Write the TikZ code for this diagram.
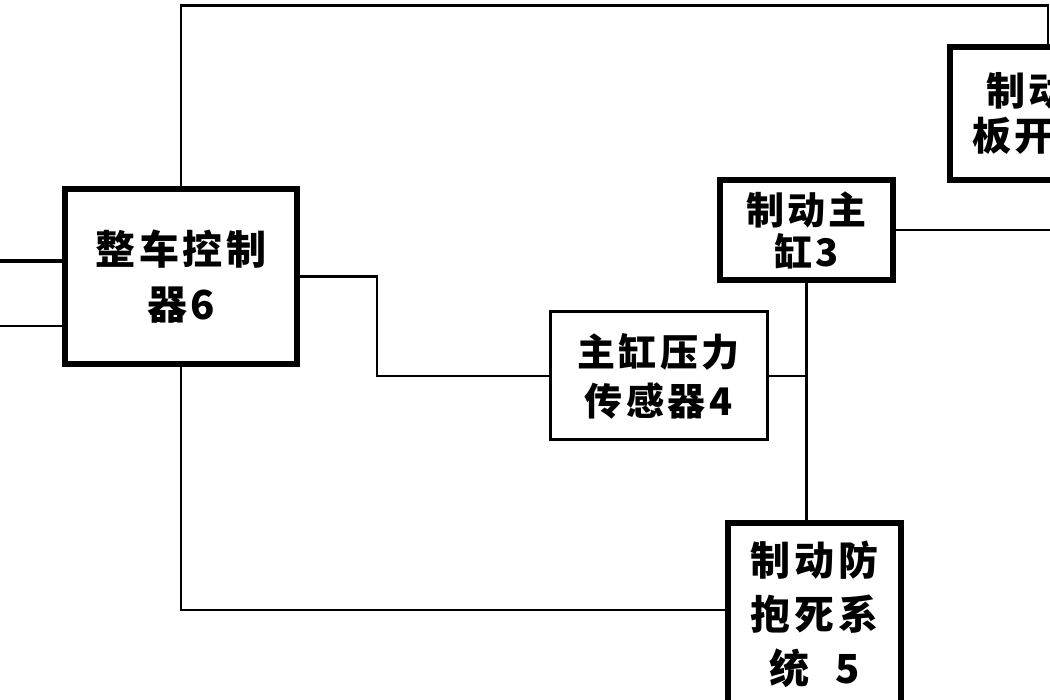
\documentclass[tikz,border=0pt]{standalone}
\usepackage{fontspec}
\newfontfamily\cjk[LetterSpace=9]{Noto Sans CJK SC}
\tikzset{
  box/.style={draw=black, line width=6pt, fill=white, align=center, inner sep=0pt,
    font=\cjk\bfseries\fontsize{38}{46}\selectfont},
  thinbox/.style={box, line width=3pt},
  wire/.style={draw=black, line width=2.8pt},
  thickwire/.style={draw=black, line width=4.5pt}
}
\begin{document}
\begin{tikzpicture}[x=1pt,y=-1pt]
\useasboundingbox (0,0) rectangle (1050,700);
\clip (0,0) rectangle (1050,700);
\fill[white] (0,0) rectangle (1050,700);
% boxes (drawn first to name them)
\node[box, minimum width=232pt, minimum height=175pt, font=\cjk\bfseries\fontsize{40}{55}\selectfont] (ecu) at (181,276.5) {整车控制\\器6};
\node[box, minimum width=173pt, minimum height=100pt, font=\cjk\bfseries\fontsize{38}{42}\selectfont] (master) at (806.5,230) {制动主\\缸3};
\node[thinbox, minimum width=217pt, minimum height=128pt, font=\cjk\bfseries\fontsize{38}{49}\selectfont] (sensor) at (658.5,376) {主缸压力\\传感器4};
\node[box, minimum width=173pt, minimum height=182pt, font=\cjk\bfseries\fontsize{40}{54}\selectfont] (abs) at (814.5,614) {制动防\\抱死系\\统~~5};
\node[box, minimum width=196pt, minimum height=133pt, font=\cjk\bfseries\fontsize{39}{45}\selectfont] (pedal) at (1048,113.5) {制动踏\\板开关8};
% helper coordinates
\coordinate (topy) at (0,5.5);
\coordinate (kx) at (377,0);
\coordinate (redge) at (1050,0);
\coordinate (l1) at (0,261);
\coordinate (l2) at (0,326);
% connectors
\draw[wire] (ecu.north) -- (ecu.north |- topy) -| (pedal.north);
\draw[wire] (ecu.east) -| (kx |- sensor.west) -- (sensor.west);
\draw[wire] (sensor.east) -- (master.south |- sensor.east);
\draw[wire] (master.south) -- (master.south |- abs.north);
\draw[wire] (master.east) -- (master.east -| redge);
\draw[wire] (ecu.south) |- ([yshift=4pt]abs.west);
\draw[thickwire] (l1) -- (l1 -| ecu.west);
\draw[wire] (l2) -- (l2 -| ecu.west);
% redraw boxes on top of wires
\node[box, minimum width=232pt, minimum height=175pt, font=\cjk\bfseries\fontsize{40}{55}\selectfont] (ecu2) at (ecu) {整车控制\\器6};
\node[box, minimum width=173pt, minimum height=100pt, font=\cjk\bfseries\fontsize{38}{42}\selectfont] (master2) at (master) {制动主\\缸3};
\node[thinbox, minimum width=217pt, minimum height=128pt, font=\cjk\bfseries\fontsize{38}{49}\selectfont] (sensor2) at (sensor) {主缸压力\\传感器4};
\node[box, minimum width=173pt, minimum height=182pt, font=\cjk\bfseries\fontsize{40}{54}\selectfont] (abs2) at (abs) {制动防\\抱死系\\统~~5};
\node[box, minimum width=196pt, minimum height=133pt, font=\cjk\bfseries\fontsize{39}{45}\selectfont] (pedal2) at (pedal) {制动踏\\板开关8};
\end{tikzpicture}
\end{document}
